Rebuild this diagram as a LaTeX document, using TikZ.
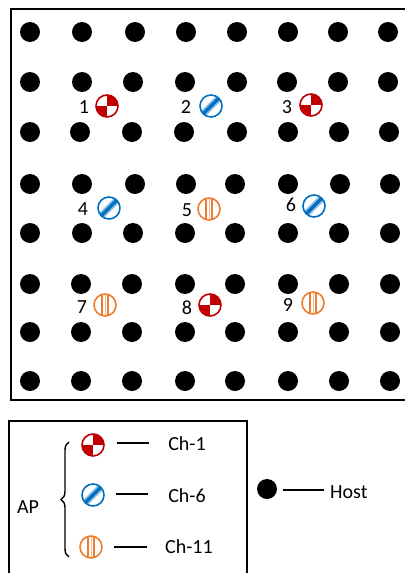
\documentclass[tikz,border=0pt]{standalone}
\usepackage{fontspec}
\setmainfont{Carlito}
\usetikzlibrary{decorations.pathreplacing}
\definecolor{chred}{HTML}{C00000}
\definecolor{chblue}{HTML}{0070C0}
\definecolor{chorange}{HTML}{ED7D31}
\begin{document}
\begin{tikzpicture}[x=1pt,y=-1pt,
  host/.style={circle, fill=black, minimum size=20pt, inner sep=0pt},
  apbase/.style={circle, minimum size=22pt, inner sep=0pt, line width=1.6pt, fill=white},
  apone/.style={apbase, draw=chred, path picture={
      \fill[chred] (path picture bounding box.center) rectangle (path picture bounding box.north east);
      \fill[chred] (path picture bounding box.center) rectangle (path picture bounding box.south west);}},
  apsix/.style={apbase, draw=chblue, path picture={
      \draw[chblue!45, line width=7pt] ([shift={(-9pt,-9pt)}]path picture bounding box.center) -- ([shift={(9pt,9pt)}]path picture bounding box.center);
      \draw[chblue, line width=3.5pt] ([shift={(-9pt,-9pt)}]path picture bounding box.center) -- ([shift={(9pt,9pt)}]path picture bounding box.center);}},
  apeleven/.style={apbase, draw=chorange, path picture={
      \draw[chorange, line width=1.3pt] ([xshift=-3pt]path picture bounding box.north) -- ([xshift=-3pt]path picture bounding box.south);
      \draw[chorange, line width=1.3pt] ([xshift=3pt]path picture bounding box.north) -- ([xshift=3pt]path picture bounding box.south);
      \draw[chorange!50, line width=1pt] (path picture bounding box.north) -- (path picture bounding box.south);}},
  txt/.style={font=\fontsize{20}{24}\selectfont},
  num/.style={txt, inner sep=0pt},
  frame/.style={line width=1.5pt},
  legline/.style={line width=1.2pt}
]
\useasboundingbox (0,0) rectangle (405,573);

% main frame
\draw[frame] (405,9) -- (11,9) -- (11,400) -- (405,400);

% hosts
\foreach \y/\xs [count=\r] in {
  32/{30,82,135,186,237,288,338,388},
  82/{30,82,133,185,237,287,338,388},
  132/{30,80,132,184,237,288,339,389},
  184/{30,82,135,186,235,288,340,390},
  233/{30,82,133,185,235,288,339,390},
  284/{30,81,132,185,235,288,339,390},
  332/{30,81,132,185,235,288,339,390},
  381/{30,81,132,185,235,288,339,390}}{
  \foreach \x [count=\c] in \xs {
    \node[host] (h\r-\c) at (\x,\y) {};
  }
}

% access points
\node[apone]    (ap1) at (107,106) {};
\node[apsix]    (ap2) at (211,106) {};
\node[apone]    (ap3) at (311,105) {};
\node[apsix]    (ap4) at (109,208) {};
\node[apeleven] (ap5) at (209,209) {};
\node[apsix]    (ap6) at (314,206) {};
\node[apeleven] (ap7) at (105,305) {};
\node[apone]    (ap8) at (210,305) {};
\node[apeleven] (ap9) at (313,303) {};

\node[num] (n1) at (84,107) {1};
\node[num] (n2) at (186,107) {2};
\node[num] (n3) at (287,107) {3};
\node[num] (n4) at (83,209) {4};
\node[num] (n5) at (187,210) {5};
\node[num] (n6) at (291,205) {6};
\node[num] (n7) at (82,307) {7};
\node[num] (n8) at (187,308) {8};
\node[num] (n9) at (288,305) {9};

% legend frame
\draw[frame] (9,573) -- (9,421) -- (247,421) -- (247,573);

\node[txt] (aplab) at (28,507) {AP};
\draw[line width=1.4pt, decorate, decoration={brace, amplitude=8pt}] (69,557) -- (69,442);

\node[apone]    (lg1) at (93,445) {};
\node[apsix]    (lg6) at (93,495) {};
\node[apeleven] (lg11) at (91,547) {};

\node[txt] (t1) at (187,444) {Ch-1};
\node[txt] (t6) at (187,496) {Ch-6};
\node[txt] (t11) at (189,547) {Ch-11};

\coordinate (a1) at (117,443); \coordinate (b1) at (149,443);
\coordinate (a6) at (116,494); \coordinate (b6) at (148,494);
\coordinate (a11) at (114,547); \coordinate (b11) at (147,547);
\draw[legline] (a1) -- (b1);
\draw[legline] (a6) -- (b6);
\draw[legline] (a11) -- (b11);

\node[host] (lghost) at (267,489) {};
\coordinate (ah) at (283,490); \coordinate (bh) at (324,490);
\draw[legline] (ah) -- (bh);
\node[txt, anchor=west, inner sep=0pt] (th) at (330,492) {Host};
\end{tikzpicture}
\end{document}
